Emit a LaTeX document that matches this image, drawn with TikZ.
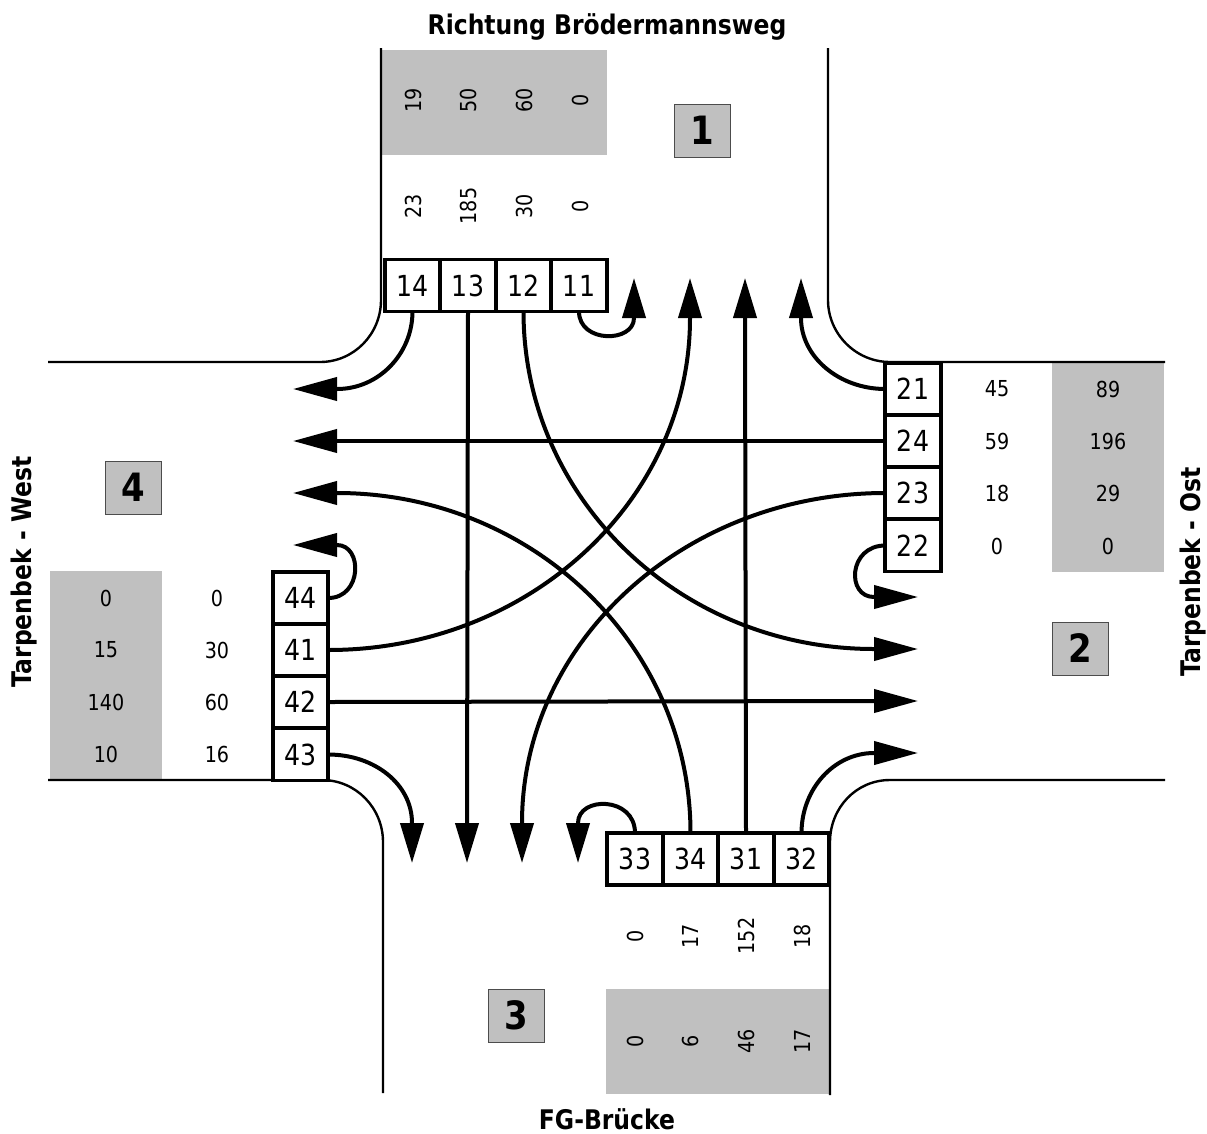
\documentclass[tikz,border=0pt]{standalone}
\usepackage{fontspec}
\setmainfont{DejaVu Sans}[FakeStretch=0.87]
\usetikzlibrary{arrows.meta}
\definecolor{greyfill}{HTML}{C0C0C0}
\tikzset{
  road/.style={line width=2.4pt},
  flow/.style={line width=4pt,-{Triangle[length=40pt,width=23pt,sep=0pt]}},
  flowh/.style={line width=4pt,-{Triangle[length=44pt,width=23pt,sep=0pt]}},
  cell/.style={draw,line width=3.8pt,fill=white,inner sep=0pt,outer sep=0pt,minimum width=55.5pt,minimum height=52pt,font=\fontsize{29}{31}\selectfont},
  val/.style={inner sep=0pt,font=\fontsize{22}{24}\selectfont},
  valr/.style={val,rotate=90},
  zone/.style={draw=black!70,line width=1pt,fill=greyfill,inner sep=0pt,minimum width=56pt,minimum height=53pt,font=\bfseries\fontsize{39}{42}\selectfont},
  head/.style={inner sep=0pt,font=\bfseries\fontsize{27}{30}\selectfont}
}
\begin{document}
\begin{tikzpicture}[x=1pt,y=-1pt]
\useasboundingbox (0,0) rectangle (1207,1133);
% grey count panels
\fill[greyfill] (381,50) rectangle (607,155);
\fill[greyfill] (1052,363) rectangle (1164,572);
\fill[greyfill] (606,989) rectangle (829,1094);
\fill[greyfill] (50,571) rectangle (162,780);
% road edges
\draw[road] (381,48) -- (381,300) .. controls +(0,34) and +(34,0) .. (320,362) -- (48,362);
\draw[road] (828,48) -- (828,300) .. controls +(0,34) and +(-34,0) .. (890,362) -- (1165,362);
\draw[road] (1165,780) -- (890,780) .. controls +(-34,0) and +(0,-34) .. (830,842) -- (830,1095);
\draw[road] (48,780) -- (322,780) .. controls +(34,0) and +(0,-34) .. (383,842) -- (383,1093);
% signal cells
\node[cell] (c14) at (412.5,285.5) {14};
\node[cell] (c13) at (468,285.5) {13};
\node[cell] (c12) at (523.5,285.5) {12};
\node[cell] (c11) at (579,285.5) {11};
\node[cell] (c21) at (913,389) {21};
\node[cell] (c24) at (913,441) {24};
\node[cell] (c23) at (913,493) {23};
\node[cell] (c22) at (913,545.5) {22};
\node[cell] (c33) at (635,859) {33};
\node[cell] (c34) at (690.5,859) {34};
\node[cell] (c31) at (746,859) {31};
\node[cell] (c32) at (801.5,859) {32};
\node[cell] (c44) at (300.5,598) {44};
\node[cell] (c41) at (300.5,650) {41};
\node[cell] (c42) at (300.5,702) {42};
\node[cell] (c43) at (300.5,754.5) {43};
% arrow bases and tips
\foreach \n/\x in {a/634,b/690,c/745,d/801}{
  \coordinate (top\n) at (\x,318); \coordinate (toptip\n) at (\x,278);}
\foreach \n/\x in {a/412,b/467,c/522,d/578}{
  \coordinate (bot\n) at (\x,823); \coordinate (bottip\n) at (\x,863);}
\foreach \n/\y in {a/389,b/441,c/493,d/545}{
  \coordinate (lef\n) at (337,\y); \coordinate (leftip\n) at (293,\y);}
\foreach \n/\y in {a/597,b/649,c/701,d/753}{
  \coordinate (rig\n) at (874,\y); \coordinate (rigtip\n) at (918,\y);}
% connectors
\draw[flowh] (c14.south) .. controls +(0,42) and +(42,0) .. (lefa) -- (leftipa);
\draw[flow] (c13.south) -- (botb) -- (bottipb);
\draw[flowh] (c12.south) .. controls +(0,187) and +(-194,0) .. (rigb) -- (rigtipb);
\draw[flow] (c11.south) .. controls +(0,32) and +(0,25) .. (topa) -- (toptipa);
\draw[flow] (c21.west) .. controls +(-46,0) and +(0,39) .. (topd) -- (toptipd);
\draw[flowh] (c24.west) -- (lefb) -- (leftipb);
\draw[flow] (c23.west) .. controls +(-200,0) and +(0,-182) .. (botc) -- (bottipc);
\draw[flowh] (c22.west) .. controls +(-37,0) and +(-28,0) .. (riga) -- (rigtipa);
\draw[flow] (c33.north) .. controls +(0,-37) and +(0,-27) .. (botd) -- (bottipd);
\draw[flowh] (c34.north) .. controls +(0,-188) and +(195,0) .. (lefc) -- (leftipc);
\draw[flow] (c31.north) -- (topc) -- (toptipc);
\draw[flowh] (c32.north) .. controls +(0,-44) and +(-40,0) .. (rigd) -- (rigtipd);
\draw[flowh] (c44.east) .. controls +(34,0) and +(26,0) .. (lefd) -- (leftipd);
\draw[flow] (c41.east) .. controls +(200,0) and +(0,183) .. (topb) -- (toptipb);
\draw[flowh] (c42.east) -- (rigc) -- (rigtipc);
\draw[flow] (c43.east) .. controls +(46,0) and +(0,-39) .. (bota) -- (bottipa);
% approach numbers
\node[valr] (n1) at (413,100) {19};
\node[valr] (n2) at (468,100) {50};
\node[valr] (n3) at (524,100) {60};
\node[valr] (n4) at (580,100) {0};
\node[valr] (n5) at (413,206) {23};
\node[valr] (n6) at (468,206) {185};
\node[valr] (n7) at (524,206) {30};
\node[valr] (n8) at (580,206) {0};
\node[val] (e1) at (997,389) {45};
\node[val] (e2) at (997,441) {59};
\node[val] (e3) at (997,493) {18};
\node[val] (e4) at (997,546) {0};
\node[val] (e5) at (1108,389) {89};
\node[val] (e6) at (1108,441) {196};
\node[val] (e7) at (1108,493) {29};
\node[val] (e8) at (1108,546) {0};
\node[valr] (s1) at (635,936) {0};
\node[valr] (s2) at (690,936) {17};
\node[valr] (s3) at (746,936) {152};
\node[valr] (s4) at (802,936) {18};
\node[valr] (s5) at (635,1041) {0};
\node[valr] (s6) at (690,1041) {6};
\node[valr] (s7) at (746,1041) {46};
\node[valr] (s8) at (802,1041) {17};
\node[val] (w1) at (106,598) {0};
\node[val] (w2) at (106,650) {15};
\node[val] (w3) at (106,702) {140};
\node[val] (w4) at (106,754) {10};
\node[val] (w5) at (217,598) {0};
\node[val] (w6) at (217,650) {30};
\node[val] (w7) at (217,702) {60};
\node[val] (w8) at (217,754) {16};
% zones
\node[zone] (z1) at (702,130.5) {1};
\node[zone] (z2) at (1080,648.5) {2};
\node[zone] (z3) at (516,1015.5) {3};
\node[zone] (z4) at (133,487.5) {4};
% headings
\node[head] (hn) at (607,27) {Richtung Brödermannsweg};
\node[head] (hs) at (607,1119) {FG-Brücke};
\node[head,rotate=90] (hw) at (24,572) {Tarpenbek - West};
\node[head,rotate=90] (he) at (1193,572) {Tarpenbek - Ost};
\end{tikzpicture}
\end{document}
